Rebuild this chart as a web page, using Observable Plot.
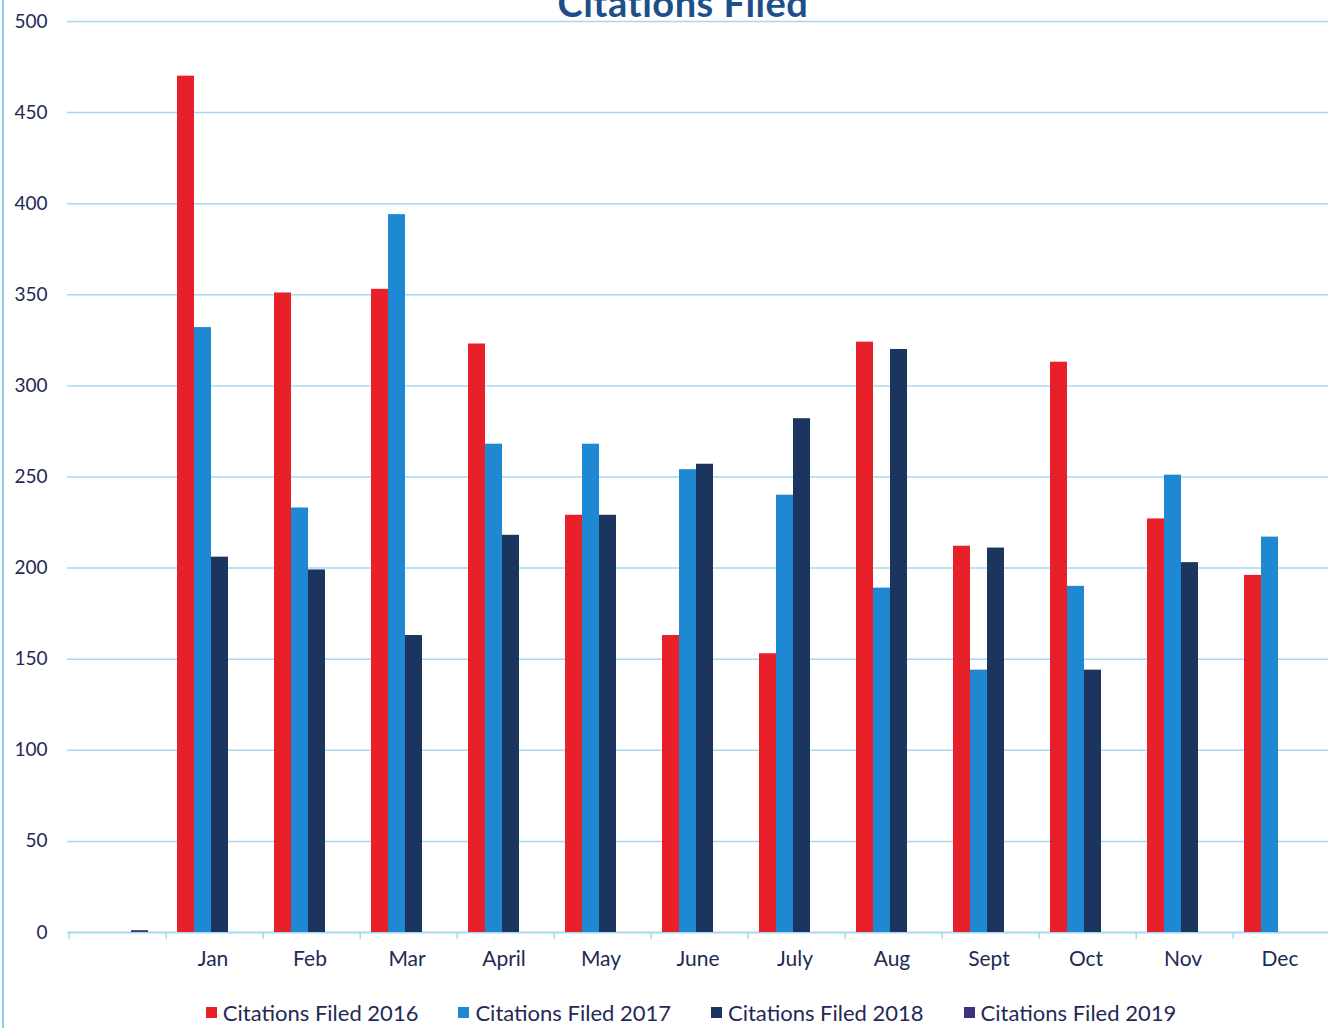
<!DOCTYPE html>
<html><head><meta charset="utf-8">
<script src="https://cdn.jsdelivr.net/npm/d3@7"></script>
<script src="https://cdn.jsdelivr.net/npm/@observablehq/plot@0.6"></script>
<style>
body{margin:0;background:#fff;font-family:Lato,sans-serif;}
#wrap{position:relative;width:1328px;height:1028px;overflow:hidden;background:#fff;}
#edge{position:absolute;left:2px;top:0;width:2px;height:1028px;background:#8ccaf0;}
#title{position:absolute;top:-21px;left:0;width:1366px;text-align:center;font:bold 38px Lato,sans-serif;color:#1d4f8a;z-index:2;letter-spacing:0.5px;}
#chart{position:absolute;top:0;left:0;}
#legend{position:absolute;top:999px;left:0;width:1382px;display:flex;justify-content:center;gap:40px;font-size:22px;color:#1f2a55;}
#legend .item{display:flex;align-items:center;}
#legend .sw{display:inline-block;width:11px;height:11px;margin-right:6px;}
</style>
</head><body>
<div id="wrap">
  <div id="edge"></div>
  <div id="title">Citations Filed</div>
  <div id="chart"></div>
  <div id="legend"></div>
</div>
<script>
const categories = ["", "Jan", "Feb", "Mar", "April", "May", "June", "July", "Aug", "Sept", "Oct", "Nov", "Dec"];
const series = ["Citations Filed 2016", "Citations Filed 2017", "Citations Filed 2018", "Citations Filed 2019"];
const colors = ["#e8202a", "#1e88d2", "#1c355e", "#40307f"];
const v2016 = [null, 470, 351, 353, 323, 229, 163, 153, 324, 212, 313, 227, 196];
const v2017 = [null, 332, 233, 394, 268, 268, 254, 240, 189, 144, 190, 251, 217];
const v2018 = [null, 206, 199, 163, 218, 229, 257, 282, 320, 211, 144, 203, null];
const v2019 = [1, null, null, null, null, null, null, null, null, null, null, null, null];
const yTicks = [0, 50, 100, 150, 200, 250, 300, 350, 400, 450, 500];

const data = [];
[v2016, v2017, v2018, v2019].forEach((vals, si) => vals.forEach((v, ci) => {
  if (v != null) data.push({month: categories[ci], series: series[si], value: v});
}));

const W = 1328, H = 977, mL = 67, mR = 0, mT = 21, mB = 45;
const padOuter = 0.72;
const bandW = (W - mL - mR) / categories.length;
const step = bandW / (series.length + 2 * padOuter);
const tickDx = -(padOuter * step + step / 2);
const gridColor = "#a6d8f2";

const chart = Plot.plot({
  width: W, height: H,
  marginLeft: mL, marginRight: mR, marginTop: mT, marginBottom: mB,
  style: {fontFamily: "Lato, sans-serif", color: "#1f2a55", background: "transparent", overflow: "visible"},
  fx: {domain: categories, padding: 0, label: null, axis: null},
  x: {domain: series, paddingInner: 0, paddingOuter: padOuter, axis: null},
  y: {domain: [0, 500], label: null},
  color: {domain: series, range: colors},
  marks: [
    Plot.ruleY(yTicks.slice(1), {stroke: gridColor, strokeWidth: 1.5}),
    Plot.ruleY([0], {stroke: gridColor, strokeWidth: 2}),
    Plot.ruleX(categories, {fx: d => d, x: () => series[0], y1: 0, y2: -4, dx: tickDx, stroke: gridColor, strokeWidth: 1.5}),
    Plot.barY(data, {fx: "month", x: "series", y: "value", fill: "series", dx: -2}),
    Plot.axisY({ticks: yTicks, tickSize: 0, tickPadding: 20, fontSize: 19, label: null}),
    Plot.axisFx({anchor: "bottom", tickSize: 0, tickPadding: 19, fontSize: 21, label: null})
  ]
});
document.getElementById("chart").appendChild(chart);

const legend = document.getElementById("legend");
series.forEach((s, i) => {
  const item = document.createElement("div");
  item.className = "item";
  const sw = document.createElement("span");
  sw.className = "sw";
  sw.style.background = colors[i];
  item.appendChild(sw);
  item.appendChild(document.createTextNode(s));
  legend.appendChild(item);
});
</script>
</body></html>
